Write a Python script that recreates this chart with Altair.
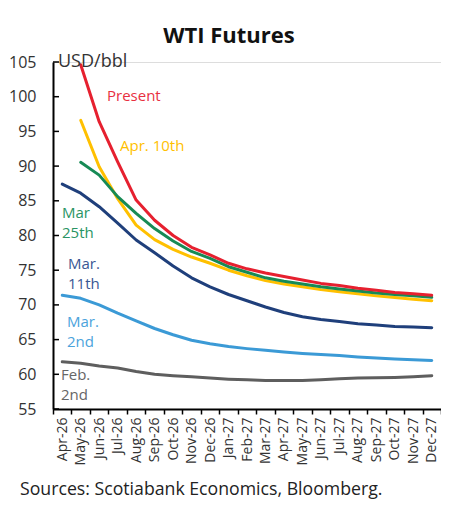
import altair as alt
import pandas as pd

months = ["Apr-26", "May-26", "Jun-26", "Jul-26", "Aug-26", "Sep-26", "Oct-26", "Nov-26", "Dec-26",
          "Jan-27", "Feb-27", "Mar-27", "Apr-27", "May-27", "Jun-27", "Jul-27", "Aug-27", "Sep-27",
          "Oct-27", "Nov-27", "Dec-27"]

feb2 = [61.8, 61.6, 61.2, 60.9, 60.4, 60.0, 59.8, 59.65, 59.45, 59.3, 59.2, 59.1, 59.1, 59.1, 59.2,
        59.35, 59.45, 59.5, 59.55, 59.65, 59.8]
mar2 = [71.4, 70.95, 70.0, 68.8, 67.7, 66.6, 65.7, 64.9, 64.4, 64.0, 63.7, 63.45, 63.2, 63.0, 62.85,
        62.7, 62.5, 62.35, 62.2, 62.1, 62.0]
mar11 = [87.4, 86.1, 84.15, 81.8, 79.35, 77.5, 75.6, 73.9, 72.6, 71.5, 70.6, 69.7, 68.9, 68.3, 67.9,
         67.6, 67.3, 67.1, 66.9, 66.8, 66.7]
apr10 = [None, 96.6, 89.9, 85.3, 81.5, 79.4, 78.0, 76.9, 76.0, 75.0, 74.2, 73.5, 73.0, 72.6, 72.2,
         71.9, 71.6, 71.3, 71.05, 70.8, 70.6]
mar25 = [None, 90.55, 88.7, 85.6, 83.2, 81.0, 79.2, 77.7, 76.7, 75.5, 74.7, 73.9, 73.4, 73.0, 72.6,
         72.3, 72.0, 71.7, 71.5, 71.3, 71.1]
present = [None, 104.6, 96.4, 90.6, 85.1, 82.2, 80.0, 78.3, 77.2, 76.0, 75.2, 74.6, 74.1, 73.6, 73.1,
           72.8, 72.4, 72.1, 71.8, 71.6, 71.4]

series_names = ["Feb. 2nd", "Mar. 2nd", "Mar. 11th", "Apr. 10th", "Mar 25th", "Present"]
series_values = [feb2, mar2, mar11, apr10, mar25, present]
series_colors = ["#5e5e5e", "#3b9ad6", "#1f3f7b", "#ffc000", "#178a55", "#e6202f"]

y_ticks = [55, 60, 65, 70, 75, 80, 85, 90, 95, 100, 105]

FONT = "Open Sans"
W, H = 388, 347

x_enc = alt.X(
    "month:O",
    sort=months,
    scale=alt.Scale(type="band", domain=months, paddingInner=0, paddingOuter=0),
    bandPosition=0.5,
    axis=alt.Axis(
        title=None, labelAngle=270, labelFontSize=14, labelColor="#333333", labelFont=FONT,
        labelPadding=3, domainColor="black", domainWidth=2, tickColor="black", tickWidth=1.5,
        tickSize=5, tickBand="extent", grid=False, labelOverlap=False,
    ),
)
y_scale = alt.Scale(domain=[55, 105], nice=False, zero=False)
y_enc = alt.Y(
    "value:Q",
    scale=y_scale,
    axis=alt.Axis(
        title=None, values=y_ticks, ticks=False, labelFontSize=16, labelColor="#333333",
        labelFont=FONT, labelPadding=17, domainColor="black", domainWidth=2, grid=False,
        labelOverlap=False, labelFlush=False, labelBound=False,
    ),
)

layers = []
for name, vals, col in zip(series_names, series_values, series_colors):
    df = pd.DataFrame({"month": months, "value": vals, "series": name}).dropna()
    layers.append(
        alt.Chart(df).mark_line(strokeWidth=3, color=col, strokeCap="round", strokeJoin="round")
        .encode(x=x_enc, y=y_enc)
    )

# inward y ticks (same y encoding, so the axis stays identical)
tick_df = pd.DataFrame({"value": y_ticks})
layers.append(
    alt.Chart(tick_df).mark_rule(color="black", strokeWidth=1.5)
    .encode(y=y_enc, x=alt.value(0), x2=alt.value(6))
)

one = pd.DataFrame({"k": [0]})


def label(text, x, y, color, size=15, weight="normal", align="left", baseline="middle"):
    return alt.Chart(one).mark_text(
        text=text, align=align, baseline=baseline, fontSize=size, font=FONT,
        fontWeight=weight, color=color,
    ).encode(x=alt.value(x), y=alt.value(y))


layers += [
    label("WTI Futures", 176, -19, "#111111", size=22, weight="bold", align="center",
          baseline="alphabetic"),
    label("USD/bbl", 5, 0, "#333333", size=18),
    label("Present", 54, 34, "#e8303f"),
    label("Apr. 10th", 67, 84, "#ffc000"),
    label("Mar", 9, 151, "#2a9464"),
    label("25th", 9, 171, "#2a9464"),
    label("Mar.", 15, 202, "#3a5793"),
    label("11th", 15, 222, "#3a5793"),
    label("Mar.", 14, 260, "#4ba3dc"),
    label("2nd", 14, 280, "#4ba3dc"),
    label("Feb.", 8, 313, "#666666"),
    label("2nd", 8, 333, "#666666"),
    label("Sources: Scotiabank Economics, Bloomberg.", -33, 433, "#222222", size=17.7,
          baseline="alphabetic"),
]

chart = alt.layer(*layers).properties(
    width=W,
    height=H,
    padding={"left": 45, "top": 54, "right": 0, "bottom": 91},
    autosize=alt.AutoSizeParams(type="none"),
    background="white",
).configure_view(stroke=None).configure(font=FONT).configure_axisY(labelOverlap=False)

chart.save("out.html", embed_options={"renderer": "svg", "actions": False})
